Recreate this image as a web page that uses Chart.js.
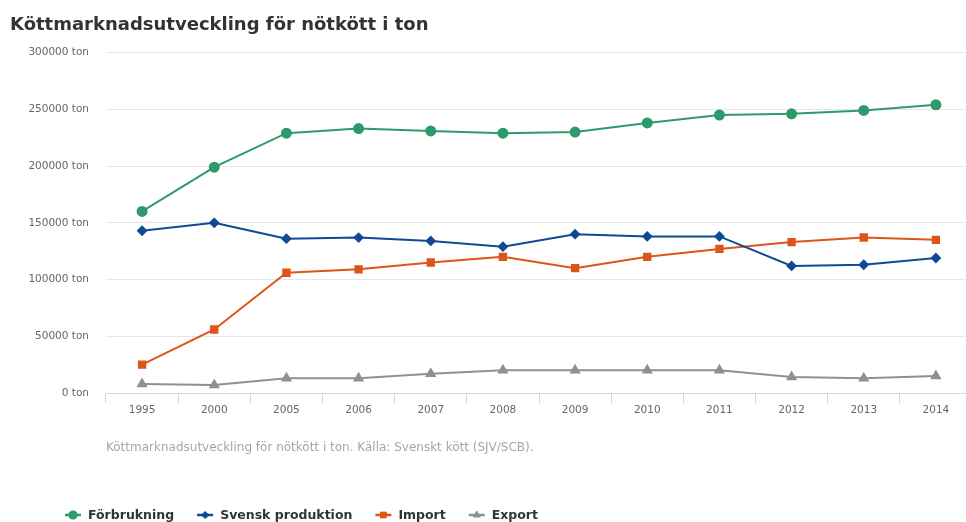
<!DOCTYPE html>
<html>
<head>
<meta charset="utf-8">
<script src="https://cdn.jsdelivr.net/npm/chart.js@4/dist/chart.umd.min.js"></script>
<style>
  html, body { margin: 0; padding: 0; background: #fff; }
  canvas { display: block; }
</style>
</head>
<body>
<canvas id="linechart" width="966" height="522"></canvas>
<script>
const years = ['1995', '2000', '2005', '2006', '2007', '2008', '2009', '2010', '2011', '2012', '2013', '2014'];
const forbrukning = [160000, 199000, 229000, 233000, 231000, 229000, 230000, 238000, 245000, 246000, 249000, 254000];
const svenskProduktion = [143000, 150000, 136000, 137000, 134000, 129000, 140000, 138000, 138000, 112000, 113000, 119000];
const importData = [25000, 56000, 106000, 109000, 115000, 120000, 110000, 120000, 127000, 133000, 137000, 135000];
const exportData = [8000, 7000, 13000, 13000, 17000, 20000, 20000, 20000, 20000, 14000, 13000, 15000];
const yTicks = [0, 50000, 100000, 150000, 200000, 250000, 300000];

const font = "'DejaVu Sans', sans-serif";

// the original plot runs a few px past the right edge of the picture
const widenPlot = {
    id: 'widenPlot',
    beforeDatasetsUpdate(chart) {
        const extra = 6;
        const xs = chart.scales.x;
        const right = chart.width + extra;
        xs.right = right;
        xs.width = right - xs.left;
        xs.configure();
        chart.chartArea.right = right;
        chart.chartArea.width = right - chart.chartArea.left;
    }
};

// legend drawn by hand so it can sit where the original has it
const bottomLegend = {
    id: 'bottomLegend',
    afterDraw(chart) {
        const ctx = chart.ctx;
        const y = chart.height - 7;
        let x = 65;
        ctx.save();
        ctx.font = `bold 12.5px ${font}`;
        ctx.textBaseline = 'middle';
        chart.data.datasets.forEach(ds => {
            ctx.strokeStyle = ds.borderColor;
            ctx.fillStyle = ds.borderColor;
            ctx.lineWidth = 2.5;
            ctx.beginPath();
            ctx.moveTo(x, y);
            ctx.lineTo(x + 16, y);
            ctx.stroke();
            ctx.lineWidth = 1;
            Chart.helpers.drawPoint(ctx, {
                pointStyle: ds.pointStyle,
                radius: ds.legendRadius,
                rotation: 0,
                borderWidth: 1
            }, x + 8, y);
            ctx.fillStyle = '#333';
            ctx.fillText(ds.label, x + 23, y + 0.5);
            x += 23 + ctx.measureText(ds.label).width + 23;
        });
        ctx.restore();
    }
};

function series(label, data, color, style, radius) {
    return {
        label: label,
        data: data,
        borderColor: color,
        backgroundColor: color,
        pointBackgroundColor: color,
        pointBorderColor: color,
        borderWidth: 2,
        pointStyle: style,
        pointRadius: radius,
        pointHoverRadius: radius,
        legendRadius: radius * 0.9,
        tension: 0
    };
}

new Chart(document.getElementById('linechart'), {
    type: 'line',
    data: {
        labels: years,
        datasets: [
            series('Förbrukning', forbrukning, '#2e9a6c', 'circle', 4.5),
            series('Svensk produktion', svenskProduktion, '#0f4a94', 'rectRot', 4),
            series('Import', importData, '#dd5519', 'rect', 4.5),
            series('Export', exportData, '#909090', 'triangle', 4.5)
        ]
    },
    plugins: [widenPlot, bottomLegend],
    options: {
        responsive: false,
        animation: false,
        layout: { padding: { left: 10, right: 0, top: 0, bottom: 67 } },
        plugins: {
            legend: { display: false },
            tooltip: { enabled: false },
            title: {
                display: true,
                text: 'Köttmarknadsutveckling för nötkött i ton',
                align: 'start',
                color: '#333',
                font: { family: font, size: 18, weight: 'bold' },
                padding: { top: 15, bottom: 16 }
            },
            subtitle: {
                display: true,
                position: 'bottom',
                fullSize: false,
                weight: 500,
                align: 'start',
                text: 'Köttmarknadsutveckling för nötkött i ton. Källa: Svenskt kött (SJV/SCB).',
                color: '#a6a6a6',
                font: { family: font, size: 12, weight: 'normal' },
                padding: { top: 23, bottom: 0 }
            }
        },
        scales: {
            x: {
                offset: true,
                grid: {
                    display: true,
                    drawOnChartArea: false,
                    offset: true,
                    tickLength: 10,
                    color: '#ccd6eb'
                },
                border: { display: true, color: '#ccd6eb', width: 1 },
                ticks: {
                    color: '#666',
                    font: { family: font, size: 10.5 },
                    padding: 1,
                    maxRotation: 0,
                    autoSkip: false
                }
            },
            y: {
                min: 0,
                max: 300000,
                afterBuildTicks: axis => { axis.ticks = yTicks.map(v => ({ value: v })); },
                afterFit: axis => { axis.width = 96; },
                grid: { color: '#e6e6e6', drawTicks: false },
                border: { display: false },
                ticks: {
                    color: '#666',
                    font: { family: font, size: 10.5 },
                    padding: 17,
                    callback: v => v + ' ton'
                }
            }
        }
    }
});
</script>
</body>
</html>
